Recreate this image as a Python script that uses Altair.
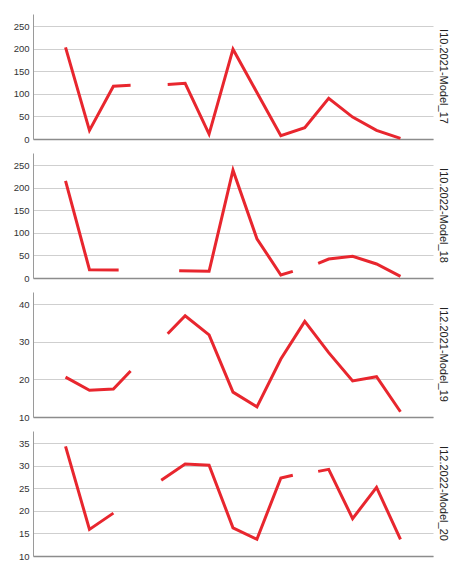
import altair as alt
import pandas as pd

labels = ["I10.2021-Model_17", "I10.2022-Model_18", "I12.2021-Model_19", "I12.2022-Model_20"]

# None marks a break in the line
x1 = [0, 1, 2, 2.72, None, 4.27, 5, 6, 7, 8, 9, 10, 11, 12, 13, 14]
v1 = [203, 19, 117, 119, None, 121, 123.5, 11, 199, 103, 7.4, 25, 90, 48.5, 19, 1.5]

x2 = [0, 1, 2.22, None, 4.75, 6, 7, 8, 9, 9.5, None, 10.56, 11, 12, 13, 14]
v2 = [215, 18.5, 17.8, None, 16.3, 14.8, 239, 87, 6.7, 14.8, None, 32.5, 42, 48, 31, 3.7]

x3 = [0, 1, 2, 2.72, None, 4.27, 5, 6, 7, 8, 9, 10, 11, 12, 13, 14]
v3 = [20.6, 17.1, 17.45, 22.2, None, 32.1, 36.9, 31.8, 16.6, 12.7, 25.4, 35.4, 27.1, 19.6, 20.7, 11.4]

x4 = [0, 1, 2, None, 4, 5, 6, 7, 8, 9, 9.5, None, 10.56, 11, 12, 13, 14]
v4 = [34.3, 15.9, 19.5, None, 26.8, 30.4, 30.1, 16.25, 13.7, 27.3, 27.9, None, 28.75, 29.2, 18.3, 25.2, 13.7]

y_domains = [[0, 277], [0, 277], [10, 43.2], [10, 37.7]]
y_ticks = [[0, 50, 100, 150, 200, 250], [0, 50, 100, 150, 200, 250], [10, 20, 30, 40], [10, 15, 20, 25, 30, 35]]
x_domain = [-1.36, 15.36]

W, H = 400, 125
RED = "#e8262e"


def to_frame(xs, vs):
    rows = []
    seg = 0
    for x, v in zip(xs, vs):
        if v is None or x is None:
            seg += 1
            continue
        rows.append({"x": x, "v": v, "seg": seg})
    return pd.DataFrame(rows)


panels = []
for lab, xs, vs, dom, ticks in zip(labels, [x1, x2, x3, x4], [v1, v2, v3, v4], y_domains, y_ticks):
    df = to_frame(xs, vs)
    line = alt.Chart(df).mark_line(color=RED, strokeWidth=3).encode(
        x=alt.X("x:Q", scale=alt.Scale(domain=x_domain, nice=False, zero=False),
                axis=alt.Axis(labels=False, ticks=False, grid=False, title=None,
                              domainColor="#8c8c8c", domainWidth=1.5,
                              minExtent=0, maxExtent=0)),
        y=alt.Y("v:Q", scale=alt.Scale(domain=dom, nice=False, zero=False),
                axis=alt.Axis(values=ticks, ticks=False, title=None, grid=True,
                              gridColor="#cfcfcf", gridWidth=1,
                              domainColor="#9a9a9a", domainWidth=1,
                              labelFont="Liberation Sans", labelFontSize=9.5,
                              labelColor="#333333", labelPadding=4,
                              minExtent=20, maxExtent=20)),
        detail="seg:N",
    )
    txt = alt.Chart(pd.DataFrame({"label": [lab]})).mark_text(
        angle=90, align="center", baseline="middle", font="Liberation Sans",
        fontSize=11, color="#222222"
    ).encode(text="label:N", x=alt.value(W + 10), y=alt.value(H / 2))
    panels.append(alt.layer(line, txt).properties(width=W, height=H))

chart = alt.vconcat(*panels, spacing=14, bounds="flush").properties(
    padding={"left": 5, "top": 6, "right": 5, "bottom": 0}
).configure_view(stroke=None)

chart.save("out.html", embed_options={"renderer": "svg", "actions": False})
